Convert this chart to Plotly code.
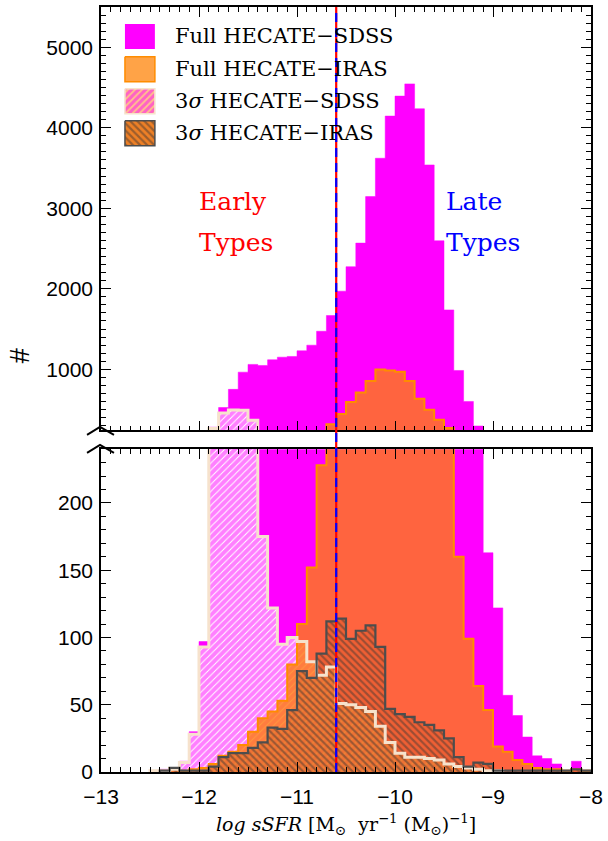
import numpy as np
import plotly.graph_objects as go

# ---------------- data (bin left edges, width 0.1 dex) ----------------
bin_edges = np.round(np.arange(-13.0, -7.95, 0.1), 1)   # 51 edges, -13.0 ... -8.0

full_sdss = [0, 0, 0, 0, 0, 1, 2, 3, 8, 30,
             97, 280, 525, 750, 964, 1060, 1047, 1118, 1150, 1159,
             1229, 1299, 1472, 1667, 1970, 2274, 2567, 3145, 3621, 4145,
             4393, 4545, 4236, 3538, 2596, 1737, 985, 600, 295, 163,
             122, 57, 42, 26, 12, 10, 6, 1, 8, 1]

full_iras = [0, 0, 0, 0, 0, 0, 1, 3, 1, 2,
             3, 6, 12, 15, 20, 30, 40, 45, 53, 80,
             110, 152, 228, 316, 445, 593, 712, 855, 996, 985,
             970, 853, 634, 498, 374, 270, 160, 99, 64, 46,
             19, 15, 9, 6, 3, 2, 2, 1, 2, 1]

sig3_sdss = [0, 0, 0, 0, 0, 1, 1, 2, 7, 28,
             93, 265, 455, 495, 490, 366, 175, 122, 95, 100,
             97, 82, 72, 78, 51, 50, 48, 45, 34, 22,
             14, 11, 11, 10, 9, 6, 4, 3, 2, 1,
             1, 0, 0, 0, 0, 0, 0, 0, 0, 0]

sig3_iras = [0, 0, 0, 0, 0, 0, 1, 3, 1, 1,
             1, 4, 11, 14, 14, 18, 22, 33, 32, 46,
             75, 70, 88, 112, 114, 99, 105, 109, 93, 47,
             43, 41, 37, 35, 31, 25, 11, 4, 7, 6,
             1, 1, 1, 1, 1, 1, 1, 1, 2, 1]

legend_labels = ["Full HECATE\u2212SDSS", "Full HECATE\u2212IRAS",
                 "3<i>\u03c3</i> HECATE\u2212SDSS", "3<i>\u03c3</i> HECATE\u2212IRAS"]
x_ticks = [-13, -12, -11, -10, -9, -8]
split_value = -10.6

# ---------------- layout geometry ----------------
W, H = 608, 841
ML, MR, MT, MB = 101, 16, 5, 69
BOT_DOM = [0.0, 0.422]
TOP_DOM = [0.4465, 1.0]
XR = [-13, -8]
YR_BOT = [0, 240]
YR_TOP = [240, 5500]

PW = W - ML - MR
PH = H - MT - MB
top_px_top = MT
top_px_bot = MT + (1 - TOP_DOM[0]) * PH


def X(px):
    return XR[0] + (px - ML) / PW * (XR[1] - XR[0])


def Y(py):
    return YR_TOP[1] - (py - top_px_top) / (top_px_bot - top_px_top) * (YR_TOP[1] - YR_TOP[0])


def P(px, py):
    return (px - ML) / PW, ((H - MB) - py) / PH


def step(counts):
    c = list(counts)
    nz = [i for i, v in enumerate(c) if v > 0]
    a, b = nz[0], nz[-1]
    xs = [bin_edges[a]] + [bin_edges[i] for i in range(a, b + 1)] + [bin_edges[b + 1], bin_edges[b + 1]]
    ys = [0] + c[a:b + 1] + [c[b], 0]
    return xs, ys


MAG = "#FF00FF"
ORANGE = "#FF8C00"
BEIGE = "#F6E2CC"
DARK = "#4d4d4d"
IRAS_FILL = "rgba(255,125,15,0.80)"

fig = go.Figure()

for xa, ya in (("x", "y"), ("x2", "y2")):
    # fills
    xs, ys = step(full_sdss)
    fig.add_trace(go.Scatter(x=xs, y=ys, xaxis=xa, yaxis=ya, mode="lines", line_shape="hv",
                             line=dict(color=MAG, width=0.5), fill="tozeroy", fillcolor=MAG,
                             showlegend=False, hoverinfo="skip"))
    xs, ys = step(sig3_sdss)
    fig.add_trace(go.Scatter(x=xs, y=ys, xaxis=xa, yaxis=ya, mode="lines", line_shape="hv",
                             line=dict(width=0), fill="tozeroy",
                             fillpattern=dict(shape="/", fgcolor=MAG, bgcolor="white", size=5, solidity=0.8),
                             showlegend=False, hoverinfo="skip"))
    xs, ys = step(full_iras)
    fig.add_trace(go.Scatter(x=xs, y=ys, xaxis=xa, yaxis=ya, mode="lines", line_shape="hv",
                             line=dict(width=0), fill="tozeroy", fillcolor=IRAS_FILL,
                             showlegend=False, hoverinfo="skip"))
    xs, ys = step(sig3_iras)
    fig.add_trace(go.Scatter(x=xs, y=ys, xaxis=xa, yaxis=ya, mode="lines", line_shape="hv",
                             line=dict(width=0), fill="tozeroy",
                             fillpattern=dict(shape="\\", fgcolor="#4a3a32", bgcolor="rgba(190,80,20,0.25)",
                                              size=5, solidity=0.45),
                             showlegend=False, hoverinfo="skip"))
    # outlines
    xs, ys = step(full_iras)
    fig.add_trace(go.Scatter(x=xs, y=ys, xaxis=xa, yaxis=ya, mode="lines", line_shape="hv",
                             line=dict(color=ORANGE, width=2), showlegend=False, hoverinfo="skip"))
    xs, ys = step(sig3_sdss)
    fig.add_trace(go.Scatter(x=xs, y=ys, xaxis=xa, yaxis=ya, mode="lines", line_shape="hv",
                             line=dict(color=BEIGE, width=3), showlegend=False, hoverinfo="skip"))
    xs, ys = step(sig3_iras)
    fig.add_trace(go.Scatter(x=xs, y=ys, xaxis=xa, yaxis=ya, mode="lines", line_shape="hv",
                             line=dict(color=DARK, width=2.2), showlegend=False, hoverinfo="skip"))

# ---------------- hand-drawn legend (top panel) ----------------
sw_x0, sw_x1 = 125, 155
sw_tops = [22, 55, 87, 119]
sw_h = 25
sw_styles = [
    dict(fillcolor=MAG, line=dict(width=0)),
    dict(fillcolor="#FFA347", line=dict(color=ORANGE, width=1.5)),
    dict(fillpattern=dict(shape="/", fgcolor=MAG, bgcolor="#FFC48A", size=5, solidity=0.65),
         line=dict(color=BEIGE, width=1.5)),
    dict(fillpattern=dict(shape="\\", fgcolor="#4a3a32", bgcolor="#EE8026", size=5, solidity=0.45),
         line=dict(color=DARK, width=1.5)),
]
for top, st, lab in zip(sw_tops, sw_styles, legend_labels):
    xs = [X(sw_x0), X(sw_x1), X(sw_x1), X(sw_x0), X(sw_x0)]
    ys = [Y(top), Y(top), Y(top + sw_h), Y(top + sw_h), Y(top)]
    fig.add_trace(go.Scatter(x=xs, y=ys, xaxis="x2", yaxis="y2", mode="lines", fill="toself",
                             showlegend=False, hoverinfo="skip", **st))
    fig.add_annotation(x=X(173), y=Y(top + sw_h / 2), xref="x2", yref="y2", text=lab,
                       showarrow=False, xanchor="left", yanchor="middle",
                       font=dict(family="DejaVu Serif", size=21, color="black"))

# Early / Late labels
lab_font = dict(family="DejaVu Serif", size=25)
for txt, px, py, col in (("Early", 197, 200, "red"), ("Types", 197, 241, "red"),
                         ("Late", 445, 200, "blue"), ("Types", 445, 241, "blue")):
    fig.add_annotation(x=X(px), y=Y(py), xref="x2", yref="y2", text=txt, showarrow=False,
                       xanchor="left", yanchor="middle", font=dict(color=col, **lab_font))

# axis titles
tx, ty = P(346, 825)
fig.add_annotation(x=tx, y=ty, xref="paper", yref="paper",
                   text="<i>log sSFR</i> [M<sub>\u2299</sub>  yr<sup>\u22121</sup> (M<sub>\u2299</sub>)<sup>\u22121</sup>]",
                   showarrow=False, xanchor="center", yanchor="middle",
                   font=dict(family="DejaVu Serif", size=19, color="black"))
hx, hy = P(20, 355)
fig.add_annotation(x=hx, y=hy, xref="paper", yref="paper", text="#",
                   textangle=-90, showarrow=False, xanchor="center", yanchor="middle",
                   font=dict(family="Liberation Sans", size=27, color="black"))

# split line
shapes = [
    dict(type="line", xref="x", yref="paper", x0=split_value, x1=split_value, y0=0, y1=1,
         line=dict(color="red", width=2.2)),
    dict(type="line", xref="x", yref="paper", x0=split_value, x1=split_value, y0=0, y1=1,
         line=dict(color="blue", width=2.2, dash="9px,6px")),
]

# axis-break chevrons
for apex in (426, 444):
    a = P(87, apex + 8)
    b = P(100, apex)
    c = P(114, apex + 8)
    shapes.append(dict(type="path", xref="paper", yref="paper",
                       path=f"M {a[0]},{a[1]} L {b[0]},{b[1]} L {c[0]},{c[1]}",
                       line=dict(color="black", width=2)))

tickfont = dict(family="Liberation Sans", size=21, color="black")
common = dict(showline=True, linecolor="black", linewidth=1.5, mirror="allticks", ticks="inside",
              ticklen=10, tickwidth=1.2, tickcolor="black", showgrid=False, zeroline=False,
              tickfont=tickfont)

fig.update_layout(
    width=W, height=H, margin=dict(l=ML, r=MR, t=MT, b=MB),
    paper_bgcolor="white", plot_bgcolor="white", showlegend=False,
    shapes=shapes,
    xaxis=dict(domain=[0, 1], anchor="y", range=XR, tickvals=x_ticks, ticklabelstandoff=5,
               minor=dict(ticks="inside", ticklen=5, dtick=0.1, tick0=-13, tickcolor="black", tickwidth=1),
               **common),
    yaxis=dict(domain=BOT_DOM, anchor="x", range=YR_BOT, dtick=50, tick0=0, ticklabelstandoff=2,
               minor=dict(ticks="inside", ticklen=5, dtick=10, tickcolor="black", tickwidth=1),
               **common),
    xaxis2=dict(domain=[0, 1], anchor="y2", range=XR, tickvals=x_ticks, showticklabels=False,
                minor=dict(ticks="inside", ticklen=5, dtick=0.1, tick0=-13, tickcolor="black", tickwidth=1),
                **common),
    yaxis2=dict(domain=TOP_DOM, anchor="x2", range=YR_TOP, dtick=1000, tick0=0, ticklabelstandoff=2,
                minor=dict(ticks="inside", ticklen=5, dtick=100, tickcolor="black", tickwidth=1),
                **common),
)

fig.write_html("out.html")
